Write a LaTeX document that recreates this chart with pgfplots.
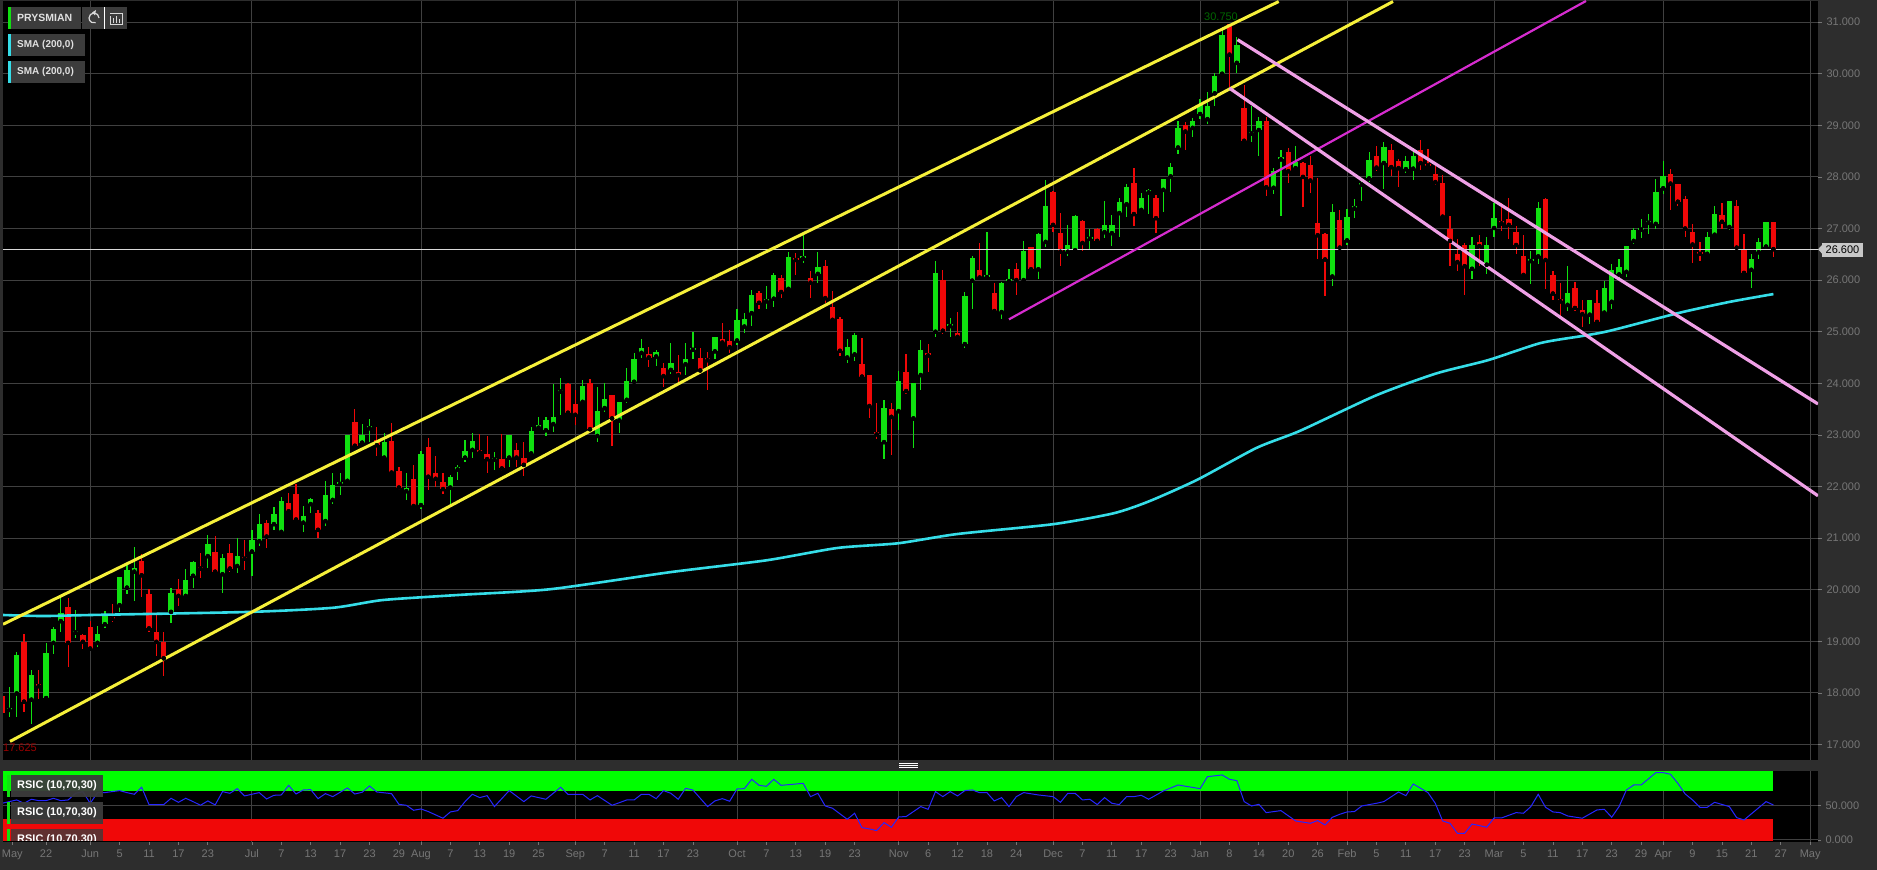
\documentclass[border=0pt]{standalone}
\usepackage{pgfplots}
\usepackage{pgfplotstable}
\usepackage{fontspec}
\setmainfont{Liberation Sans}
\pgfplotsset{compat=1.18}
\definecolor{panel}{HTML}{2D2D2D}
\definecolor{gridc}{HTML}{404040}
\definecolor{upc}{HTML}{10E010}
\definecolor{downc}{HTML}{F00808}
\definecolor{tickc}{HTML}{767676}
\definecolor{boxc}{HTML}{3C3C3C}
\definecolor{yel}{HTML}{F6F03A}
\definecolor{pinkc}{HTML}{EFA0E6}
\definecolor{magc}{HTML}{D62CCF}
\definecolor{cyanc}{HTML}{35DDE8}
\pgfplotstableread{
i lo b t hi
1 17.54 17.67 17.70 18.12
2 17.54 17.99 18.73 18.80
4 17.39 17.87 18.34 18.44
6 17.86 17.90 18.78 18.96
7 18.76 18.97 19.23 19.27
8 19.18 19.39 19.54 19.85
10 19.06 19.17 19.20 19.61
13 18.89 18.97 19.15 19.29
14 19.25 19.33 19.51 19.59
16 19.56 19.70 20.24 20.25
17 19.92 20.04 20.38 20.48
18 19.79 20.35 20.43 20.83
23 19.35 19.57 19.93 20.04
25 19.85 19.88 20.19 20.41
26 20.04 20.27 20.54 20.56
28 20.43 20.65 20.89 21.06
30 19.93 20.30 20.61 20.70
32 20.33 20.46 20.65 21.00
34 20.26 20.74 20.96 21.16
35 20.85 20.94 21.27 21.47
37 21.16 21.27 21.47 21.61
38 21.12 21.12 21.71 21.80
41 21.12 21.30 21.43 21.62
42 21.48 21.66 21.76 21.77
44 21.24 21.33 21.84 22.11
45 21.66 21.74 22.03 22.26
46 21.84 22.05 22.08 22.26
47 22.11 22.11 22.99 22.99
49 22.80 22.85 22.99 23.21
50 22.87 23.13 23.17 23.30
52 22.55 22.56 22.87 23.03
55 21.74 21.91 21.98 22.26
57 21.56 21.64 22.63 22.68
61 21.67 21.98 22.19 22.22
62 22.13 22.33 22.37 22.42
63 22.48 22.56 22.69 22.90
64 22.56 22.71 22.88 23.03
67 22.32 22.52 22.56 22.67
69 22.38 22.56 22.99 22.99
72 22.64 22.64 23.08 23.15
73 23.13 23.14 23.20 23.35
74 22.97 23.09 23.28 23.34
75 23.06 23.21 23.35 23.99
76 23.39 23.84 23.88 24.11
79 23.64 23.64 23.94 24.06
81 22.87 22.98 23.47 23.92
82 23.45 23.52 23.70 24.01
84 23.03 23.28 23.63 23.64
85 23.61 23.68 24.04 24.29
86 24.00 24.03 24.47 24.58
87 24.50 24.59 24.68 24.85
89 24.34 24.52 24.60 24.65
91 24.18 24.26 24.39 24.79
93 24.16 24.37 24.47 24.78
94 24.48 24.65 24.69 25.00
97 24.47 24.62 24.89 24.89
100 24.74 24.83 25.23 25.45
101 24.97 25.10 25.25 25.37
102 25.11 25.36 25.71 25.80
104 25.45 25.59 25.63 25.89
105 25.47 25.64 26.09 26.13
107 25.81 25.83 26.44 26.55
109 26.33 26.42 26.46 26.88
111 25.95 26.12 26.26 26.54
115 24.40 24.50 24.70 24.85
116 24.44 24.56 24.94 24.97
120 22.53 22.86 23.53 23.68
122 23.10 23.46 24.05 24.24
124 22.75 23.32 24.01 24.01
125 23.88 24.16 24.65 24.84
127 24.89 25.00 26.13 26.37
129 24.89 25.11 25.15 25.27
131 24.69 24.76 25.69 25.77
132 25.44 25.99 26.42 26.46
134 26.03 26.06 26.10 26.94
136 25.25 25.38 25.95 25.96
137 25.97 25.98 26.02 26.21
139 25.99 26.00 26.57 26.75
141 26.02 26.21 26.90 26.91
142 26.65 26.74 27.43 27.94
145 26.46 26.55 26.69 27.06
146 26.57 26.58 27.25 27.26
148 26.59 26.80 26.84 26.99
150 26.81 26.93 27.06 27.54
151 26.66 26.91 27.06 27.26
152 26.84 27.30 27.52 27.60
153 27.23 27.47 27.80 27.87
155 27.33 27.36 27.60 27.69
156 27.28 27.70 27.74 27.76
158 27.32 27.75 27.96 27.96
159 27.70 28.01 28.20 28.27
160 28.44 28.57 28.94 29.09
162 28.78 28.95 29.08 29.15
163 29.12 29.22 29.39 29.52
164 29.02 29.12 29.37 29.64
165 29.38 29.62 29.96 30.01
166 30.00 30.00 30.75 30.90
168 30.01 30.21 30.55 30.71
170 28.67 28.84 28.88 29.37
171 28.41 28.91 29.08 29.17
173 27.66 27.79 28.12 28.18
174 27.25 28.34 28.38 28.52
176 28.16 28.17 28.29 28.59
181 25.89 26.07 27.33 27.47
183 26.69 26.77 27.22 27.38
184 27.21 27.39 27.43 27.57
185 27.53 27.85 27.88 27.92
186 27.90 27.97 28.32 28.49
188 27.76 28.27 28.58 28.68
191 28.07 28.15 28.30 28.41
192 27.95 28.16 28.40 28.57
200 26.02 26.22 26.68 26.84
202 26.11 26.30 26.68 26.84
203 26.84 27.01 27.20 27.50
208 25.93 26.37 26.41 26.56
209 26.31 26.46 27.40 27.51
213 25.41 25.52 25.75 26.28
216 25.15 25.33 25.62 25.62
218 25.36 25.37 25.85 25.98
219 25.44 25.58 26.20 26.32
220 26.04 26.11 26.25 26.40
221 26.07 26.16 26.66 26.67
222 26.71 26.76 26.97 27.01
223 26.82 26.98 27.02 27.18
224 26.90 27.11 27.15 27.29
225 27.00 27.09 27.70 27.96
226 27.66 27.78 28.01 28.30
232 26.46 26.51 26.84 26.93
233 26.87 26.88 27.29 27.44
235 26.97 27.03 27.54 27.54
238 25.85 26.20 26.40 26.51
239 26.41 26.54 26.73 26.82
240 26.60 26.65 27.12 27.12
}\greentable
\pgfplotstableread{
i lo b t hi
0 17.61 17.61 17.94 17.96
3 17.63 17.83 18.99 19.15
5 17.89 18.13 18.17 18.44
9 18.51 18.97 19.66 19.83
11 18.86 18.99 19.12 19.15
12 18.84 18.86 19.28 19.40
15 19.38 19.44 19.48 19.72
19 19.86 20.28 20.56 20.70
20 19.18 19.25 19.92 20.01
21 18.71 18.99 19.18 19.51
22 18.33 18.67 18.99 19.18
24 19.68 19.88 20.01 20.21
27 20.22 20.41 20.45 20.72
29 20.35 20.35 20.73 21.04
31 20.35 20.41 20.72 20.89
33 20.38 20.60 20.64 20.96
36 20.80 21.03 21.30 21.35
39 21.51 21.52 21.69 21.88
40 21.35 21.36 21.85 22.05
43 21.01 21.16 21.49 21.54
48 22.79 22.79 23.25 23.50
51 22.59 22.80 22.91 23.15
53 22.24 22.27 22.89 23.24
54 21.93 21.98 22.30 22.38
56 21.58 21.62 22.15 22.42
58 21.93 22.19 22.77 22.95
59 22.00 22.15 22.26 22.59
60 21.85 21.95 22.08 22.27
65 22.64 22.66 22.70 23.01
66 22.27 22.53 22.63 22.98
68 22.31 22.35 22.53 23.01
70 22.38 22.56 22.71 22.84
71 22.20 22.42 22.56 22.87
77 23.43 23.43 23.99 24.00
78 23.19 23.39 23.60 23.87
80 23.10 23.11 24.01 24.08
83 22.78 23.32 23.77 23.77
88 24.32 24.50 24.56 24.71
90 23.92 24.14 24.30 24.39
92 24.00 24.16 24.22 24.55
95 24.19 24.25 24.50 24.68
96 23.87 24.45 24.49 24.61
98 24.76 24.79 24.85 25.16
99 24.59 24.70 24.82 25.03
103 25.45 25.56 25.76 25.78
106 25.65 25.77 26.04 26.10
108 26.10 26.39 26.43 26.52
110 25.65 25.95 26.04 26.17
112 25.55 25.65 26.28 26.39
113 25.18 25.23 25.47 25.78
114 24.53 24.63 25.24 25.29
117 24.12 24.13 24.37 24.87
118 23.32 23.56 24.17 24.17
119 22.93 23.01 23.05 23.61
121 22.62 23.35 23.50 23.61
123 23.79 23.85 24.21 24.56
126 24.21 24.54 24.58 24.76
128 24.95 25.02 26.00 26.20
130 24.89 24.90 24.97 25.38
133 26.03 26.05 26.19 26.72
135 25.39 25.40 25.75 25.95
138 25.71 26.00 26.21 26.34
140 26.20 26.21 26.65 26.65
143 26.94 27.07 27.71 27.72
144 26.28 26.55 26.91 27.31
147 26.57 26.72 27.15 27.16
149 26.75 26.76 27.00 27.01
154 27.05 27.28 27.88 28.18
157 26.91 27.20 27.59 27.65
161 28.52 28.88 29.00 29.06
167 29.74 30.37 30.97 30.97
169 28.70 28.70 29.34 29.78
172 27.63 27.80 29.08 29.17
175 27.88 28.11 28.49 28.57
177 27.42 28.00 28.27 28.28
178 27.68 27.93 28.23 28.41
179 26.40 26.87 27.11 27.97
180 25.70 26.40 26.90 26.92
182 26.63 26.63 27.17 27.36
187 28.12 28.18 28.41 28.60
189 28.02 28.19 28.53 28.63
190 27.80 28.17 28.30 28.34
193 28.14 28.27 28.52 28.72
194 28.21 28.22 28.25 28.54
195 27.84 27.90 28.05 28.21
196 27.18 27.23 27.88 28.03
197 26.28 26.76 27.00 27.25
198 26.17 26.35 26.51 26.79
199 25.72 26.27 26.68 26.72
201 26.27 26.66 26.74 26.87
204 26.95 27.10 27.14 27.49
205 26.79 27.07 27.19 27.60
206 26.50 26.68 26.94 27.05
207 26.09 26.10 26.46 26.87
210 25.82 26.39 27.57 27.60
211 25.61 25.74 26.09 26.17
212 25.30 25.59 25.63 25.94
214 25.41 25.46 25.84 25.96
215 25.10 25.34 25.42 25.62
217 25.15 25.19 25.56 25.80
227 27.35 27.87 28.06 28.16
228 27.44 27.52 27.86 27.87
229 26.84 27.00 27.57 27.64
230 26.34 26.69 26.93 27.09
231 26.38 26.51 26.55 26.73
234 27.00 27.13 27.26 27.50
236 26.62 26.63 27.44 27.55
237 26.12 26.14 26.61 26.89
241 26.44 26.60 27.12 27.13
}\redtable
\pgfplotstableread{
i v
0 52.9
1 55.3
2 57.7
3 52.9
4 58.7
5 56.7
6 56.7
7 60.1
8 56.7
9 57.7
10 67.3
11 69.7
12 52.9
13 68.3
14 68.3
16 71.2
17 68.3
18 65.9
19 76
20 51
22 51
23 60.1
24 54.3
25 60.1
26 55.3
27 50
28 56.3
29 50.5
30 69.7
31 67.3
32 74
33 63.5
35 68.3
36 59.1
37 64.4
38 64.9
39 78.8
40 66.3
41 72.1
42 72.6
43 59.6
44 66.8
45 62.5
47 75
48 66.3
49 68.8
50 77.9
51 69.2
53 66.8
54 51.4
55 50
56 42.8
57 44.7
58 40.9
60 31.3
61 40.4
62 42.3
63 55.3
64 65.9
65 61.1
66 63.9
67 48.1
69 71.2
71 55.3
72 63.5
74 58.7
76 76
77 65.9
79 65.9
80 57.7
81 63.9
83 50
84 53.8
85 57.7
86 57.7
87 65.9
88 65.9
89 59.6
90 71.2
91 67.3
92 58.7
93 74.5
94 72.1
96 48.1
97 56.3
98 59.6
99 55.8
100 73.6
101 74
102 87.5
103 78.8
104 77.4
105 87.5
106 78.8
109 81.7
110 62.5
111 67.3
112 49
113 45.7
115 29.8
116 38.5
117 17.8
118 15.9
119 13.5
120 25
121 18.3
122 33.2
123 33.7
125 48.1
126 44.2
127 69.7
128 62.5
129 69.7
130 63.5
131 71.2
132 72.1
133 68.3
134 68.3
135 56.3
136 61.1
137 48.1
138 62.5
139 68.3
141 64.9
143 62.5
144 54.3
145 67.3
146 67.3
147 57.7
148 58.7
149 51
150 61.1
151 52.9
152 51
153 62.5
154 62.5
155 64.4
156 58.7
158 70.7
160 79.3
163 74
164 91.3
166 93.8
167 87.5
168 85.6
169 55.3
170 49
171 51.4
172 39.4
174 42.3
176 27.4
178 24
179 27.9
180 21.6
181 32.7
182 37
183 40.4
184 40.9
185 49
187 52.9
188 55.3
190 69.2
191 63.9
192 80.8
194 68.3
195 52.9
196 27.4
197 24
198 9.6
199 9.6
200 23
202 18.3
203 31.7
204 31.7
206 39.4
207 38.5
208 48.1
209 65.9
210 47.1
211 40.4
212 39.4
213 34.6
215 31.3
217 43.3
218 44.2
219 32.7
220 48.1
221 72.1
222 79.3
223 79.3
225 97.1
226 97.1
227 94.7
228 81.7
229 66.3
230 57.7
231 47.1
232 47.1
233 54.3
235 48.1
236 32.2
237 28.8
240 55.3
241 50.5
}\rsitable
\pgfplotstableread{
i p
0.14 19.51
5.6 19.49
12 19.51
33.7 19.57
45 19.65
51.8 19.80
62.3 19.90
74.6 20.01
90.9 20.34
104 20.57
113.7 20.81
121.9 20.90
130 21.08
143 21.27
151.2 21.48
156 21.71
162.6 22.13
170.7 22.75
176.6 23.08
187 23.77
195.1 24.19
202.2 24.45
209.3 24.78
215.1 24.92
218.8 25.02
228.3 25.37
235.1 25.58
241 25.73
}\smatable
\pgfplotsset{
  wick/.style={only marks,mark=none,forget plot,
    error bars/y dir=both,error bars/y explicit,
    error bars/error mark=none,
    error bars/error bar style={line width=1.2pt,solid,color=#1}},
  body/.style={only marks,mark=none,forget plot,
    error bars/y dir=plus,error bars/y explicit,
    error bars/error mark=none,
    error bars/error bar style={line width=5.4pt,solid,color=#1}},
}
\newcommand{\tl}[1]{\fontsize{11pt}{12pt}\selectfont #1}
\begin{document}
\begin{tikzpicture}[x=1pt,y=1pt]
\useasboundingbox (0,0) rectangle (1877,870);
\fill[panel] (0,0) rectangle (1877,870);
\begin{axis}[
  at={(3pt,110pt)},anchor=south west,scale only axis,
  width=1815pt,height=759pt,
  xmin=0.136,xmax=247.07,ymin=16.70,ymax=31.41,
  axis background/.style={fill=black},
  axis line style={draw=none},
  xtick={12,34,57,78,100,122,143,163,183,203,226,246},
  xticklabels={},
  x tick style={draw=none},
  ytick={17,18,...,31},
  ytick pos=right,
  tick align=outside,
  major tick length=4pt,
  y tick style={color=tickc,line width=0.8pt},
  yticklabel style={color=tickc,font=\tl{},xshift=1pt},
  /pgf/number format/assume math mode=true,
  /pgf/number format/fixed,/pgf/number format/fixed zerofill,/pgf/number format/precision=3,
  scaled y ticks=false,
  xmajorgrids,ymajorgrids,
  grid style={color=gridc,line width=0.9pt},
]
\addplot[wick=upc] table[x=i,y=b,y error plus expr=\thisrow{hi}-\thisrow{b},y error minus expr=\thisrow{b}-\thisrow{lo}] {\greentable};
\addplot[wick=downc] table[x=i,y=b,y error plus expr=\thisrow{hi}-\thisrow{b},y error minus expr=\thisrow{b}-\thisrow{lo}] {\redtable};
\addplot[body=upc] table[x=i,y=b,y error plus expr=\thisrow{t}-\thisrow{b}] {\greentable};
\addplot[body=downc] table[x=i,y=b,y error plus expr=\thisrow{t}-\thisrow{b}] {\redtable};
\addplot[color=white!85!black,line width=1pt,forget plot] coordinates {(0.136,26.6) (247.07,26.6)};
\addplot[color=cyanc,line width=2.6pt,forget plot,smooth,tension=0.4] table[x=i,y=p] {\smatable};
\addplot[color=yel,line width=3pt,forget plot] coordinates {(0.14,19.33) (173.7,31.40)};
\addplot[color=yel,line width=3pt,forget plot] coordinates {(1.09,17.06) (189.25,31.40)};
\addplot[color=magc,line width=2.2pt,forget plot] coordinates {(137.0,25.24) (215.5,31.41)};
\addplot[color=pinkc,line width=3.2pt,forget plot] coordinates {(168.1,30.66) (247.07,23.60)};
\addplot[color=pinkc,line width=3.2pt,forget plot] coordinates {(167,29.72) (247.07,21.82)};
\end{axis}
\begin{axis}[
  at={(3pt,28pt)},anchor=south west,scale only axis,
  width=1815pt,height=71pt,
  xmin=0.136,xmax=247.07,ymin=-3,ymax=99.5,
  axis background/.style={fill=black},
  axis line style={draw=none},
  xtick={1.4,6,12,16,20,24,28,34,38,42,46,50,54,57,61,65,69,73,78,82,86,90,94,100,104,108,112,116,122,126,130,134,138,143,147,151,155,159,163,167,171,175,179,183,187,191,195,199,203,207,211,215,219,223,226,230,234,238,242,246},
  xticklabels={May,22,Jun,5,11,17,23,Jul,7,13,17,23,29,Aug,7,13,19,25,Sep,7,11,17,23,Oct,7,13,19,23,Nov,6,12,18,24,Dec,7,11,17,23,Jan,8,14,20,26,Feb,5,11,17,23,Mar,5,11,17,23,29,Apr,9,15,21,27,May},
  xtick pos=bottom,
  ytick={0,50},
  ytick pos=right,
  tick align=outside,
  major tick length=3pt,
  x tick style={color=tickc,line width=0.8pt},
  y tick style={color=tickc,line width=0.8pt},
  xticklabel style={color=tickc,font=\tl{},yshift=-1pt},
  yticklabel style={color=tickc,font=\tl{},xshift=1pt},
  /pgf/number format/assume math mode=true,
  /pgf/number format/fixed,/pgf/number format/fixed zerofill,/pgf/number format/precision=3,
  ymajorgrids,
  grid style={color=gridc,line width=0.9pt},
  extra x ticks={12,34,57,78,100,122,143,163,183,203,226,246},
  extra x tick labels={},
  extra x tick style={xmajorgrids=true,major tick length=0pt},
]
\addplot[fill=green!100!black,draw=none,forget plot] coordinates {(0.136,70) (241,70) (241,98.8) (0.136,98.8)} -- cycle;
\addplot[fill=downc,draw=none,forget plot] coordinates {(0.136,-1) (241,-1) (241,29.8) (0.136,29.8)} -- cycle;
\addplot[color=blue!85!white,line width=1pt,forget plot] table[x=i,y=v] {\rsitable};
\end{axis}
% header boxes
\fill[boxc] (8,841) rectangle (81,863);
\fill[upc] (8,841) rectangle (11,863);
\node[anchor=west,inner sep=0pt,text=white!88!black] at (17,852) {\fontsize{10.5pt}{12pt}\selectfont\bfseries PRYSMIAN};
\fill[boxc] (82,841) rectangle (127,863);
\draw[white,line width=1pt] (104,841) -- (104,863);
\draw[white!85!black,line width=1.2pt] (99,852) arc[start angle=0,end angle=290,radius=5];
\fill[white!85!black] (96,860) -- (92,857.5) -- (95,854.5) -- cycle;
\draw[white!85!black,line width=0.9pt] (110,857) -- (122,857) -- (122,846) -- (110,846) -- (110,854);
\draw[white!85!black,line width=1pt] (113.5,847) -- (113.5,852) (116.5,847) -- (116.5,854) (119.5,847) -- (119.5,851);
\fill[boxc] (8,814) rectangle (85,836);
\fill[cyanc] (8,814) rectangle (11,836);
\node[anchor=west,inner sep=0pt,text=white!88!black] at (17,825) {\fontsize{10pt}{12pt}\selectfont\bfseries SMA (200,0)};
\fill[boxc] (8,787) rectangle (85,809);
\fill[cyanc] (8,787) rectangle (11,809);
\node[anchor=west,inner sep=0pt,text=white!88!black] at (17,798) {\fontsize{10pt}{12pt}\selectfont\bfseries SMA (200,0)};
% high and low labels
\node[anchor=west,inner sep=0pt,text=green!40!black] at (1204,853) {\fontsize{11pt}{12pt}\selectfont 30.750};
\node[anchor=west,inner sep=0pt,text=red!60!black] at (3,122) {\fontsize{11pt}{12pt}\selectfont 17.625};
% last price tag
\fill[white!78!black] (1818,620.7) -- (1822,625) -- (1822,616.4) -- cycle;
\fill[white!78!black] (1822,613) rectangle (1863,627);
\node[inner sep=0pt,text=black] at (1842.5,620) {\fontsize{11pt}{12pt}\selectfont 26.600};
% separator handle
\draw[white,line width=0.9pt] (899,106.5) -- (918,106.5) (899,104.3) -- (918,104.3) (899,102.1) -- (918,102.1);
% RSIC labels
\begin{scope}
\clip (3,29) rectangle (1818,99);
\fill[boxc,opacity=0.95] (11,73) rectangle (103,95);
\fill[upc] (7,73) rectangle (10,95);
\node[anchor=west,inner sep=0pt,text=white] at (17,84) {\fontsize{11pt}{12pt}\selectfont\bfseries RSIC (10,70,30)};
\fill[boxc,opacity=0.95] (11,46) rectangle (103,68);
\fill[upc] (7,46) rectangle (10,68);
\node[anchor=west,inner sep=0pt,text=white] at (17,57) {\fontsize{11pt}{12pt}\selectfont\bfseries RSIC (10,70,30)};
\fill[boxc!85!red,opacity=0.95] (11,19) rectangle (103,41);
\fill[upc] (7,19) rectangle (10,41);
\node[anchor=west,inner sep=0pt,text=white] at (17,30) {\fontsize{11pt}{12pt}\selectfont\bfseries RSIC (10,70,30)};
\end{scope}
\end{tikzpicture}
\end{document}
